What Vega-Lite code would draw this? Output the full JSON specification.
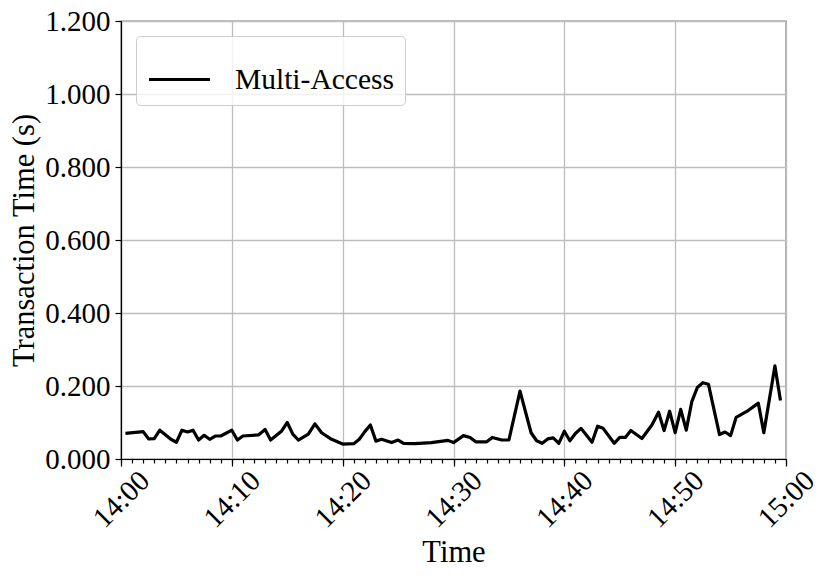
{
  "$schema": "https://vega.github.io/schema/vega-lite/v6.json",
  "width": 665,
  "height": 438,
  "autosize": {"type": "none"},
  "padding": {"left": 121, "top": 21, "right": 44, "bottom": 121},
  "background": "white",
  "config": {
    "font": "Liberation Serif",
    "view": {"stroke": "black", "strokeWidth": 1.2},
    "axis": {"domainColor": "black", "domainWidth": 1.2, "tickColor": "black", "tickWidth": 1.2, "labelColor": "black", "titleColor": "black", "labelFont": "Liberation Serif", "titleFont": "Liberation Serif", "titleFontWeight": "normal", "gridColor": "#bdbdbd", "gridWidth": 1.3}
  },
  "data": {"values": [
    {"time": "2024-01-01T14:00:24", "value": 0.070},
    {"time": "2024-01-01T14:02:00", "value": 0.075},
    {"time": "2024-01-01T14:02:30", "value": 0.055},
    {"time": "2024-01-01T14:03:00", "value": 0.056},
    {"time": "2024-01-01T14:03:30", "value": 0.079},
    {"time": "2024-01-01T14:04:30", "value": 0.054},
    {"time": "2024-01-01T14:05:00", "value": 0.046},
    {"time": "2024-01-01T14:05:30", "value": 0.079},
    {"time": "2024-01-01T14:06:00", "value": 0.074},
    {"time": "2024-01-01T14:06:30", "value": 0.079},
    {"time": "2024-01-01T14:07:00", "value": 0.052},
    {"time": "2024-01-01T14:07:30", "value": 0.065},
    {"time": "2024-01-01T14:08:00", "value": 0.054},
    {"time": "2024-01-01T14:08:30", "value": 0.063},
    {"time": "2024-01-01T14:09:00", "value": 0.063},
    {"time": "2024-01-01T14:10:00", "value": 0.079},
    {"time": "2024-01-01T14:10:30", "value": 0.052},
    {"time": "2024-01-01T14:11:00", "value": 0.063},
    {"time": "2024-01-01T14:12:24", "value": 0.066},
    {"time": "2024-01-01T14:13:00", "value": 0.081},
    {"time": "2024-01-01T14:13:30", "value": 0.052},
    {"time": "2024-01-01T14:14:30", "value": 0.077},
    {"time": "2024-01-01T14:15:00", "value": 0.100},
    {"time": "2024-01-01T14:15:30", "value": 0.068},
    {"time": "2024-01-01T14:16:00", "value": 0.052},
    {"time": "2024-01-01T14:16:54", "value": 0.068},
    {"time": "2024-01-01T14:17:30", "value": 0.096},
    {"time": "2024-01-01T14:18:06", "value": 0.072},
    {"time": "2024-01-01T14:19:00", "value": 0.054},
    {"time": "2024-01-01T14:20:00", "value": 0.041},
    {"time": "2024-01-01T14:21:00", "value": 0.042},
    {"time": "2024-01-01T14:21:30", "value": 0.054},
    {"time": "2024-01-01T14:22:00", "value": 0.075},
    {"time": "2024-01-01T14:22:30", "value": 0.093},
    {"time": "2024-01-01T14:23:00", "value": 0.049},
    {"time": "2024-01-01T14:23:30", "value": 0.054},
    {"time": "2024-01-01T14:24:25", "value": 0.045},
    {"time": "2024-01-01T14:25:00", "value": 0.052},
    {"time": "2024-01-01T14:25:30", "value": 0.043},
    {"time": "2024-01-01T14:26:30", "value": 0.042},
    {"time": "2024-01-01T14:28:00", "value": 0.045},
    {"time": "2024-01-01T14:29:30", "value": 0.051},
    {"time": "2024-01-01T14:30:00", "value": 0.045},
    {"time": "2024-01-01T14:30:54", "value": 0.064},
    {"time": "2024-01-01T14:31:30", "value": 0.059},
    {"time": "2024-01-01T14:32:00", "value": 0.047},
    {"time": "2024-01-01T14:33:00", "value": 0.047},
    {"time": "2024-01-01T14:33:30", "value": 0.059},
    {"time": "2024-01-01T14:34:21", "value": 0.052},
    {"time": "2024-01-01T14:35:00", "value": 0.052},
    {"time": "2024-01-01T14:36:00", "value": 0.186},
    {"time": "2024-01-01T14:37:00", "value": 0.072},
    {"time": "2024-01-01T14:37:30", "value": 0.050},
    {"time": "2024-01-01T14:38:00", "value": 0.043},
    {"time": "2024-01-01T14:38:30", "value": 0.055},
    {"time": "2024-01-01T14:39:00", "value": 0.058},
    {"time": "2024-01-01T14:39:30", "value": 0.043},
    {"time": "2024-01-01T14:40:00", "value": 0.076},
    {"time": "2024-01-01T14:40:30", "value": 0.050},
    {"time": "2024-01-01T14:41:00", "value": 0.070},
    {"time": "2024-01-01T14:41:30", "value": 0.084},
    {"time": "2024-01-01T14:42:30", "value": 0.046},
    {"time": "2024-01-01T14:43:00", "value": 0.090},
    {"time": "2024-01-01T14:43:30", "value": 0.084},
    {"time": "2024-01-01T14:44:30", "value": 0.043},
    {"time": "2024-01-01T14:45:00", "value": 0.059},
    {"time": "2024-01-01T14:45:30", "value": 0.059},
    {"time": "2024-01-01T14:46:00", "value": 0.078},
    {"time": "2024-01-01T14:47:00", "value": 0.056},
    {"time": "2024-01-01T14:47:54", "value": 0.093},
    {"time": "2024-01-01T14:48:30", "value": 0.128},
    {"time": "2024-01-01T14:49:00", "value": 0.078},
    {"time": "2024-01-01T14:49:30", "value": 0.131},
    {"time": "2024-01-01T14:50:00", "value": 0.072},
    {"time": "2024-01-01T14:50:30", "value": 0.136},
    {"time": "2024-01-01T14:51:00", "value": 0.079},
    {"time": "2024-01-01T14:51:30", "value": 0.157},
    {"time": "2024-01-01T14:52:00", "value": 0.196},
    {"time": "2024-01-01T14:52:30", "value": 0.209},
    {"time": "2024-01-01T14:53:00", "value": 0.205},
    {"time": "2024-01-01T14:54:00", "value": 0.067},
    {"time": "2024-01-01T14:54:30", "value": 0.074},
    {"time": "2024-01-01T14:55:00", "value": 0.064},
    {"time": "2024-01-01T14:55:30", "value": 0.114},
    {"time": "2024-01-01T14:56:30", "value": 0.131},
    {"time": "2024-01-01T14:57:30", "value": 0.153},
    {"time": "2024-01-01T14:58:00", "value": 0.072},
    {"time": "2024-01-01T14:59:00", "value": 0.255},
    {"time": "2024-01-01T14:59:30", "value": 0.160}
  ]},
  "layer": [
    {
      "mark": {"type": "line", "strokeWidth": 3.2, "strokeJoin": "round"},
      "encoding": {
        "x": {
          "field": "time", "type": "temporal",
          "scale": {"domain": [{"year": 2024, "month": 1, "date": 1, "hours": 14, "minutes": 0}, {"year": 2024, "month": 1, "date": 1, "hours": 15, "minutes": 0}], "nice": false},
          "axis": {
            "orient": "bottom", "format": "%H:%M",
            "values": [
              {"year": 2024, "month": 1, "date": 1, "hours": 14, "minutes": 0},
              {"year": 2024, "month": 1, "date": 1, "hours": 14, "minutes": 10},
              {"year": 2024, "month": 1, "date": 1, "hours": 14, "minutes": 20},
              {"year": 2024, "month": 1, "date": 1, "hours": 14, "minutes": 30},
              {"year": 2024, "month": 1, "date": 1, "hours": 14, "minutes": 40},
              {"year": 2024, "month": 1, "date": 1, "hours": 14, "minutes": 50},
              {"year": 2024, "month": 1, "date": 1, "hours": 15, "minutes": 0}
            ],
            "labelAngle": -45, "labelAlign": "center", "labelBaseline": "middle", "labelPadding": 33,
            "labelFontSize": 29, "tickSize": 7, "grid": true,
            "title": "Time", "titleFontSize": 30.5, "titleY": 102, "titleBaseline": "alphabetic", "labelFlush": false, "labelOverlap": false
          }
        },
        "y": {
          "field": "value", "type": "quantitative",
          "scale": {"domain": [0, 1.2], "nice": false},
          "axis": {
            "values": [0, 0.2, 0.4, 0.6, 0.8, 1.0, 1.2], "format": ".3f",
            "labelFontSize": 29, "tickSize": 6, "labelPadding": 5, "grid": true,
            "title": "Transaction Time (s)", "titleFontSize": 30.5, "titleX": -88, "titleY": 219, "titleBaseline": "alphabetic"
          }
        },
        "color": {
          "datum": "Multi-Access",
          "scale": {"range": ["black"]},
          "legend": {
            "title": null, "orient": "top-left", "offset": 15, "padding": 11,
            "symbolType": "stroke", "symbolSize": 3721, "symbolStrokeWidth": 3.2,
            "labelFontSize": 29.5, "labelFont": "Liberation Serif", "labelColor": "black", "labelOffset": 23,
            "fillColor": "rgba(255,255,255,0.8)", "strokeColor": "#cccccc", "cornerRadius": 4
          }
        }
      }
    },
    {
      "mark": {"type": "rule", "strokeOpacity": 0},
      "encoding": {
        "x": {
          "field": "time", "type": "temporal",
          "axis": {"orient": "bottom", "tickCount": 60, "labels": false, "domain": false, "grid": false, "tickSize": 4, "title": null}
        }
      }
    }
  ],
  "resolve": {"axis": {"x": "independent"}}
}
